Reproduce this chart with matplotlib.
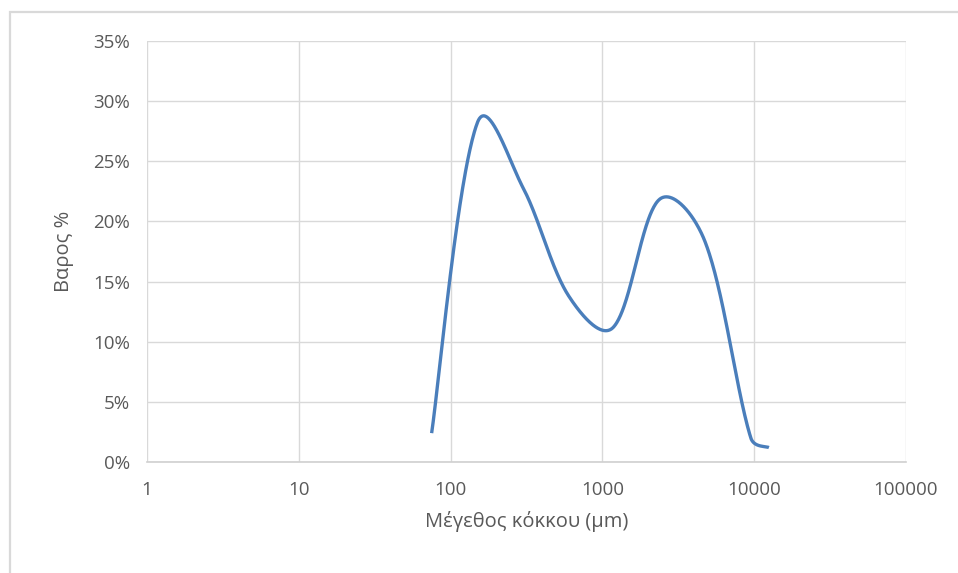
import numpy as np
import matplotlib
matplotlib.use("Agg")
import matplotlib.pyplot as plt
from matplotlib.ticker import FixedLocator, FuncFormatter, NullLocator
from matplotlib.patches import Rectangle

# Data (grain size in µm, weight fraction in %)
sizes = [75, 150, 300, 600, 1180, 2360, 4750, 9500, 12500]
weights = [2.4, 28.2, 22.8, 13.8, 11.2, 21.8, 18.3, 2.0, 1.2]

x_ticks = [1, 10, 100, 1000, 10000, 100000]
y_ticks = [0, 5, 10, 15, 20, 25, 30, 35]
x_label = "Μέγεθος κόκκου (μm)"
y_label = "Βαρος %"

plt.rcParams['font.family'] = ['Open Sans', 'DejaVu Sans']

W, H = 958, 573
fig = plt.figure(figsize=(W / 100, H / 100), dpi=100)
# chart-area border
fig.patches.append(Rectangle((10 / W, -0.05), 1.1, 1 - 12 / H + 0.05,
                             transform=fig.transFigure, fill=False,
                             edgecolor='#d9d9d9', linewidth=1.6))

ax = fig.add_axes([147 / W, 1 - 462 / H, 759 / W, 421 / H])
ax.set_xscale('log')
ax.set_xlim(1, 100000)
ax.set_ylim(0, 35)

# Excel-style smoothed line: Bezier through the points (screen space)
px_dec = 759 / 5.0
px_pct = 421 / 35.0
S = np.column_stack([np.log10(np.array(sizes, float)) * px_dec,
                     np.array(weights, float) * px_pct])
n = len(S)


def ctrl(p, tang, d_here, d_other):
    scaled = d_here / (d_here + d_other) / 3.0 if d_other > 0 else 1 / 6.0
    f = 0.5 * scaled + 0.5 / 6.0
    v = tang * f
    L = np.linalg.norm(v)
    lim = 0.5 * d_here
    if L > lim and L > 0:
        v = v * lim / L
    return p + v


pts = []
for i in range(n - 1):
    p0 = S[i - 1] if i > 0 else S[i]
    p1 = S[i]
    p2 = S[i + 1]
    p3 = S[i + 2] if i + 2 < n else S[i + 1]
    d01 = np.linalg.norm(p1 - p0)
    d12 = np.linalg.norm(p2 - p1)
    d23 = np.linalg.norm(p3 - p2)
    c1 = ctrl(p1, p2 - p0, d12, d01)
    c2 = ctrl(p2, -(p3 - p1), d12, d23)
    t = np.linspace(0, 1, 80)[:, None]
    seg = ((1 - t) ** 3) * p1 + 3 * ((1 - t) ** 2) * t * c1 + 3 * (1 - t) * t ** 2 * c2 + t ** 3 * p2
    pts.append(seg if i == 0 else seg[1:])
pts = np.vstack(pts)
ax.plot(10 ** (pts[:, 0] / px_dec), pts[:, 1] / px_pct, color='#4a7ebb',
        linewidth=2.4, solid_capstyle='butt', zorder=3)

ax.xaxis.set_major_locator(FixedLocator(x_ticks))
ax.xaxis.set_minor_locator(NullLocator())
ax.xaxis.set_major_formatter(FuncFormatter(lambda v, p: f"{v:g}"))
ax.set_yticks(y_ticks)
ax.yaxis.set_major_formatter(FuncFormatter(lambda v, p: f"{v:.0f}%"))

ax.grid(True, color='#d9d9d9', linewidth=1.0)
ax.set_axisbelow(True)
for s in ['top', 'right', 'left']:
    ax.spines[s].set_visible(False)
ax.spines['bottom'].set_color('#d0d0d0')
ax.spines['bottom'].set_linewidth(1.2)
ax.tick_params(axis='both', length=0, labelsize=13.5, colors='#595959')
ax.tick_params(axis='x', pad=14)
ax.tick_params(axis='y', pad=12)

ax.set_xlabel(x_label, fontsize=14.5, color='#595959', labelpad=8)
ax.set_ylabel(y_label, fontsize=14.5, color='#595959', labelpad=14)

fig.savefig("out.png", dpi=100)
